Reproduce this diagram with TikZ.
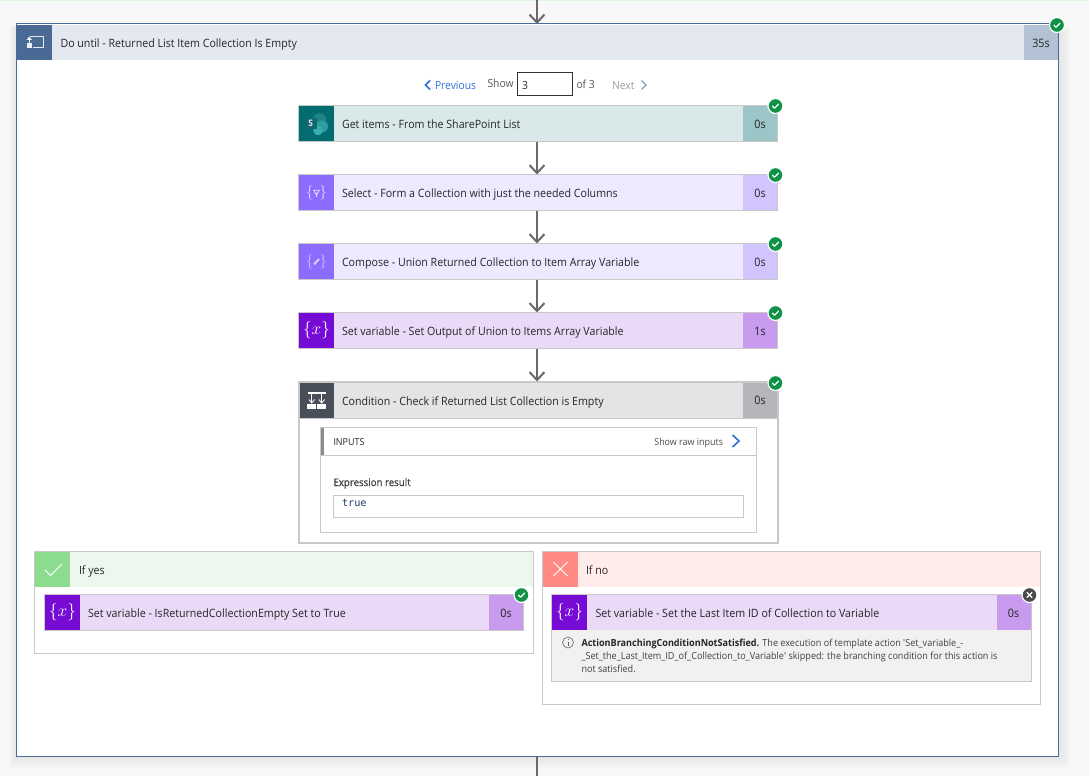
\documentclass[tikz,border=0pt]{standalone}
\usepackage{fontspec}
\setmainfont{Open Sans}[FakeStretch=0.93]
\setmonofont{DejaVu Sans Mono}
\newfontfamily\semibfont{Open Sans}[FakeStretch=0.93,FakeBold=0.6]
\usetikzlibrary{arrows.meta,calc}
\definecolor{pagebg}{HTML}{F8F8F8}
\definecolor{outerblue}{HTML}{4A6C98}
\definecolor{edge}{HTML}{C8C8C8}
\definecolor{ink}{HTML}{262626}
\definecolor{wire}{HTML}{6A6A6A}
\definecolor{okgreen}{HTML}{0F9246}
\definecolor{linkblue}{HTML}{2F6FDB}
\definecolor{topline}{HTML}{E0F5E0}
\definecolor{loopbar}{HTML}{E4E8F0}
\definecolor{loopicon}{HTML}{486A94}
\definecolor{loopdur}{HTML}{B3C1D4}
\definecolor{spicon}{HTML}{036C70}
\definecolor{spbar}{HTML}{D9E9E9}
\definecolor{spdur}{HTML}{9BC5C6}
\definecolor{spa}{HTML}{1F8488}
\definecolor{spb}{HTML}{2F9CA1}
\definecolor{spc}{HTML}{3BADB2}
\definecolor{spd}{HTML}{11696D}
\definecolor{dataicon}{HTML}{8C6CFF}
\definecolor{databar}{HTML}{EEE9FF}
\definecolor{datadur}{HTML}{D1C4FF}
\definecolor{dataglyph}{HTML}{E6DFFF}
\definecolor{dataglyphb}{HTML}{D3C7FF}
\definecolor{varicon}{HTML}{770BD6}
\definecolor{varbar}{HTML}{EADAF7}
\definecolor{vardur}{HTML}{C89BEF}
\definecolor{condbar}{HTML}{E3E4E6}
\definecolor{condicon}{HTML}{484F58}
\definecolor{conddurc}{HTML}{B4B6BA}
\definecolor{inpbar}{HTML}{8A8C90}
\definecolor{trueink}{HTML}{1F3A6E}
\definecolor{yesbar}{HTML}{ECF7EE}
\definecolor{yesicon}{HTML}{8BDC8F}
\definecolor{nobar}{HTML}{FFECEB}
\definecolor{noicon}{HTML}{FF8A84}
\definecolor{panel}{HTML}{F2F1EF}
\definecolor{closebadge}{HTML}{4A4A4A}
\definecolor{nextchev}{HTML}{8A9BB8}
\tikzset{
  x=1pt,y=-1pt,
  conn/.style={draw=wire,line width=2pt,-{Straight Barb[length=8pt,width=15pt,line width=2pt]}},
  stub/.style={draw=wire,line width=2pt},
  cardbox/.style={draw=edge,line width=1pt,anchor=north west,inner sep=0,outer sep=0},
  lbl/.style={anchor=base west,inner sep=0,outer sep=0,text=ink,font=\fontsize{11.45}{14}\selectfont},
  small/.style={lbl,font=\fontsize{11.1}{13}\selectfont},
  dur/.style={anchor=base,inner sep=0,outer sep=0,text=ink,font=\fontsize{11.6}{14}\selectfont},
  glyph/.style={inner sep=0,outer sep=0,text=white},
  badge/.style={circle,fill=#1,draw=white,line width=1.2pt,minimum size=15pt,inner sep=0,outer sep=0},
  tick/.style={draw=white,line width=1.3pt,line cap=round,line join=round},
}
% name, x, y, w, h, icon colour, bar colour, duration colour, title, time
\newcommand{\flowcard}[9]{%
  \node[cardbox,fill=#6,minimum width=#3,minimum height=#4] (#1) at (#2) {};
  \fill[#5] ([shift={(.5,.5)}]#1.north west) rectangle ++(35,35);
  \fill[#7] ([shift={(-34.5,.5)}]#1.north east) rectangle ([shift={(-.5,35.5)}]#1.north east);
  \node[dur] (#1dur) at ([shift={(-17.5,22.8)}]#1.north east) {#9};
  \node[lbl] (#1txt) at ([shift={(43.5,23)}]#1.north west) {#8};
}
\newcommand{\okbadge}[2]{%
  \node[badge=okgreen] (#1) at (#2) {};
  \draw[tick] ([shift={(-3,.2)}]#1.center) -- ++(2,2) -- ++(4,-4);
}
\newcommand{\varglyph}[2]{\node[glyph,font=\fontsize{17}{17}\selectfont] (#1) at (#2) {$\{x\}$};}
\begin{document}
\begin{tikzpicture}
\useasboundingbox (0,0) rectangle (1089,776);
\fill[pagebg] (0,0) rectangle (1089,776);
\fill[topline] (0,0) rectangle (1089,1);
% outer frame shadow
\foreach \s in {2,4,6,8,10,12}{
  \fill[black,opacity=.012,rounded corners=3pt] (16.5-\s*.6,24+\s*.2) rectangle (1058.5+\s,756.5+\s);
}
\coordinate (topstub) at (537,0);
\coordinate (botstub) at (537,776);
% Do until
\node[cardbox,draw=outerblue,fill=white,minimum width=1042,minimum height=732.5] (outer) at (16.5,24) {};
\fill[loopbar] (17,25) rectangle (1058,60);
\fill[loopicon] (17,25) rectangle (52,60);
\fill[loopdur] (1024,25) rectangle (1058,60);
\node[lbl] (outertxt) at (60.5,47.8) {Do until - Returned List Item Collection Is Empty};
\node[dur] (outerdur) at (1041,47.5) {35s};
\draw[white,opacity=.85,line width=1pt] (30,36.5) -- (43,36.5) -- (43,48) -- (32.5,48);
\fill[white,opacity=.9] (26.5,43) rectangle (32,48.5);
\fill[white,opacity=.9] (29.2,36.5) -- (32,40) -- (26.5,40) -- cycle;
\draw[white,opacity=.9,line width=1pt] (29.2,39) -- (29.2,43);
\okbadge{bouter}{1057,25}
\draw[conn] (topstub) -- (topstub |- outer.north);
\draw[stub] (outer.south -| botstub) -- (botstub);
% pager
\draw[linkblue,line width=1.5pt] (430,80.5) -- (425.5,85) -- (430,89.5);
\node[small,text=linkblue] (prev) at (435,89) {Previous};
\node[small,text=black!65] (show) at (487.5,88) {Show};
\node[cardbox,draw=black!80,fill=white,minimum width=55,minimum height=23] (pagebox) at (517.5,72.5) {};
\node[small] (pageval) at (522,89) {3};
\node[small,text=black!65] (ofn) at (576.5,88.5) {of 3};
\node[small,text=black!38] (next) at (612,89) {Next};
\draw[nextchev,line width=1.4pt] (641.5,80.5) -- (646,85) -- (641.5,89.5);
% cards
\flowcard{c1}{298.5,105.5}{479}{36}{spicon}{spbar}{spdur}{Get items - From the SharePoint List}{0s}
\flowcard{c2}{298.5,174.5}{479}{36}{dataicon}{databar}{datadur}{Select - Form a Collection with just the needed Columns}{0s}
\flowcard{c3}{298.5,243.5}{479}{36}{dataicon}{databar}{datadur}{Compose - Union Returned Collection to Item Array Variable}{0s}
\flowcard{c4}{298.5,312.5}{479}{36}{varicon}{varbar}{vardur}{Set variable - Set Output of Union to Items Array Variable}{1s}
\okbadge{b1}{775.5,106}
\okbadge{b2}{775.5,175}
\okbadge{b3}{775.5,244}
\okbadge{b4}{775.5,313}
% sharepoint icon
\fill[spa] (319.5,120) circle (6.8);
\fill[spb] (322,126.5) circle (6);
\fill[spc] (318,130.5) circle (4.8);
\fill[spd] (305,118) rectangle (316.5,129);
\node[glyph,font=\fontsize{9}{9}\bfseries\selectfont,text=dataglyph] (spS) at (310.7,123.5) {S};
% select and compose icons
\node[glyph,text=dataglyph,font=\fontsize{15}{15}\selectfont] (selg) at (316.5,192.5) {$\{\;\,\}$};
\draw[dataglyph,line width=.8pt,line join=round] (313.6,190.2) -- (319.4,190.2) -- (316.5,195) -- cycle;
\draw[dataglyph,line width=.7pt] (316.5,193) -- (316.5,196.5);
\node[glyph,text=dataglyphb,font=\fontsize{15}{15}\selectfont] (comg) at (316.5,261.5) {$\{\;\,\}$};
\draw[dataglyphb,line width=2.2pt] (314,264.5) -- (319,259);
\varglyph{var1}{316.5,330}
% connectors
\coordinate (ax) at (537,0);
\draw[conn] (c1.south -| ax) -- (c2.north -| ax);
\draw[conn] (c2.south -| ax) -- (c3.north -| ax);
\draw[conn] (c3.south -| ax) -- (c4.north -| ax);
% condition
\node[cardbox,draw=edge,line width=2pt,fill=white,minimum width=479,minimum height=161] (cond) at (298.5,381.5) {};
\draw[conn] (c4.south -| ax) -- (cond.north -| ax);
\fill[condbar] (299.5,382.5) rectangle (776.5,418);
\fill[condicon] (299.5,382.5) rectangle (334,418);
\fill[conddurc] (743,382.5) rectangle (776.5,418);
\draw[edge,line width=1pt] (299,418.5) -- (777,418.5);
\node[lbl] (condtxt) at (342,405) {Condition - Check if Returned List Collection is Empty};
\node[dur] (conddur) at (760,404) {0s};
\okbadge{b5}{775.5,383}
% condition glyph
\fill[white] (308.3,391.5) rectangle (325.7,394);
\draw[white,line width=.8pt] (311.7,394) -- (311.7,403) (321.7,394) -- (321.7,403);
\draw[white,line width=.8pt] (308.8,399.5) -- (311.7,403) -- (314.6,399.5) (318.8,399.5) -- (321.7,403) -- (324.6,399.5);
\fill[white] (307.3,404.3) rectangle (316,409.3);
\fill[white] (317.3,404.3) rectangle (325.7,409.3);
% inputs
\node[cardbox,fill=white,minimum width=435.5,minimum height=105] (inp) at (320.5,427.5) {};
\draw[edge,line width=1pt] (321,455.5) -- (756,455.5);
\fill[inpbar] (321,428) rectangle (324,455);
\node[small,font=\fontsize{9.6}{12}\selectfont] (inptxt) at (333.5,445) {INPUTS};
\node[small,anchor=base east,font=\fontsize{9.6}{12}\selectfont,text=black!70] (rawtxt) at (723,445) {Show raw inputs};
\draw[linkblue,line width=1.6pt] (732.5,435) -- (739,441) -- (732.5,447);
\node[small,font=\semibfont\fontsize{10.4}{12}\selectfont,text=black!75] (extxt) at (333.5,486) {Expression result};
\node[cardbox,fill=white,minimum width=409.5,minimum height=22] (exbox) at (333.5,495.5) {};
\node[lbl,font=\ttfamily\fontsize{10.2}{12}\selectfont,text=trueink] (exval) at (342,506.8) {true};
% if yes
\node[cardbox,fill=white,minimum width=499,minimum height=102] (yes) at (34.5,551.5) {};
\fill[yesbar] (35,552) rectangle (533,587);
\fill[yesicon] (35,552) rectangle (70,587);
\draw[white,line width=1pt] (45,570) -- (50.5,575.5) -- (62,564);
\node[lbl] (yestxt) at (79,574) {If yes};
\flowcard{cy}{44.5,594.5}{479}{36}{varicon}{varbar}{vardur}{Set variable - IsReturnedCollectionEmpty Set to True}{0s}
\varglyph{var2}{62.5,612}
\okbadge{b6}{521.5,595}
% if no
\node[cardbox,fill=white,minimum width=498,minimum height=153] (no) at (542.5,551.5) {};
\fill[nobar] (543,552) rectangle (1040,587);
\fill[noicon] (543,552) rectangle (578,587);
\draw[white,line width=1pt] (553.5,562) -- (567.5,576) (567.5,562) -- (553.5,576);
\node[lbl] (notxt) at (586,574) {If no};
\node[cardbox,fill=panel,minimum width=479.5,minimum height=86.5] (nopanel) at (551.5,594.5) {};
\fill[varbar] (552,595) rectangle (1030.5,630);
\fill[varicon] (552,595) rectangle (587,630);
\fill[vardur] (997,595) rectangle (1030.5,630);
\node[lbl] (notitle) at (595.5,617.8) {Set variable - Set the Last Item ID of Collection to Variable};
\node[dur] (nodur) at (1013.5,617.5) {0s};
\varglyph{var3}{569.5,612}
\node[badge=closebadge] (bx) at (1029.5,595) {};
\draw[tick] ([shift={(-2.4,-2.4)}]bx.center) -- ++(4.8,4.8) ([shift={(2.4,-2.4)}]bx.center) -- ++(-4.8,4.8);
% info
\node[circle,draw=black!55,line width=.7pt,minimum size=11pt,inner sep=0,outer sep=0] (info) at (568,642.5) {};
\draw[black!60,line width=.8pt] (568,641.5) -- (568,646) (568,639.3) -- (568,640.3);
\node[lbl,anchor=north west,align=left,text=black!75,font=\fontsize{9.75}{12.9}\selectfont] (msg) at (581.5,638.8)
 {{\bfseries\color{ink}ActionBranchingConditionNotSatisfied.} The execution of template action \textquotesingle Set\_variable\_-\\
  \_Set\_the\_Last\_Item\_ID\_of\_Collection\_to\_Variable\textquotesingle\ skipped: the branching condition for this action is\\
  not satisfied.};
\end{tikzpicture}
\end{document}
